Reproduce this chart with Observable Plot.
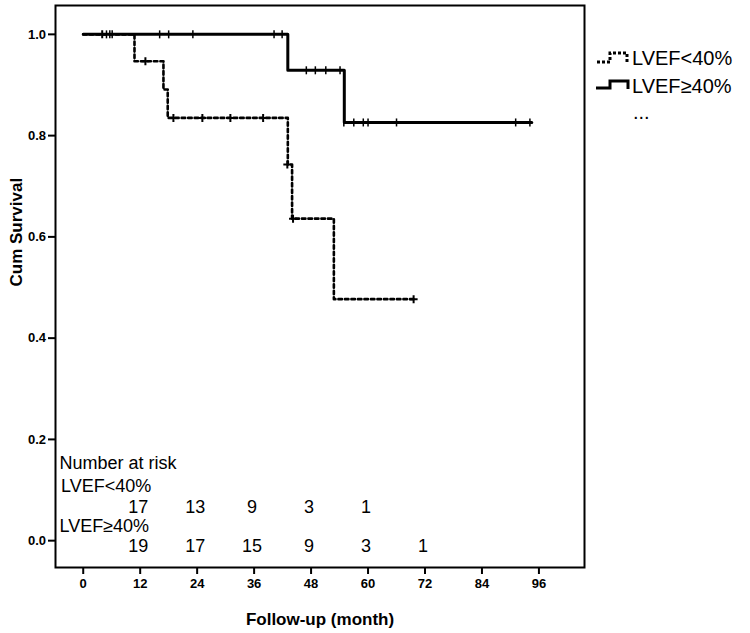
<!DOCTYPE html>
<html><head><meta charset="utf-8">
<script src="https://cdn.jsdelivr.net/npm/d3@7"></script>
<script src="https://cdn.jsdelivr.net/npm/@observablehq/plot@0.6"></script>
<style>
body{margin:0;background:#fff;}
#wrap{position:relative;width:750px;height:633px;font-family:Arial,"Liberation Sans",sans-serif;color:#000;}
#wrap > svg{position:absolute;left:0;top:0;}
.leg{position:absolute;font-size:20px;line-height:1;white-space:nowrap;}
[aria-label="x-axis tick label"] text,[aria-label="y-axis tick label"] text{font-weight:bold;font-size:13px;}
</style></head><body><div id="wrap"></div>
<script>
// Kaplan-Meier steps
const lowTimes = [0, 10.8, 16.9, 17.8, 43.1, 44.0, 52.8, 69.8];
const lowSurv  = [1, 0.947, 0.891, 0.835, 0.743, 0.636, 0.477, 0.477];
const highTimes = [0, 43.1, 55.0, 94.5];
const highSurv  = [1, 0.929, 0.826, 0.826];
// censored observations
const lowCensorTimes = [4.0, 13.1, 19.0, 25.1, 31.0, 37.9, 43.0, 44.2, 69.6];
const lowCensorSurv  = [1, 0.947, 0.835, 0.835, 0.835, 0.835, 0.743, 0.636, 0.477];
const highCensorTimes = [4.9, 5.6, 6.1, 16.1, 18.0, 23.1, 40.2, 41.9, 47.0, 48.9, 51.1, 54.1, 54.9, 57.0, 59.0, 60.0, 66.0, 91.1, 94.1];
const highCensorSurv  = [1, 1, 1, 1, 1, 1, 1, 1, 0.929, 0.929, 0.929, 0.929, 0.826, 0.826, 0.826, 0.826, 0.826, 0.826, 0.826];
// axes
const xTicks = [0, 12, 24, 36, 48, 60, 72, 84, 96];
const yTicks = [0, 0.2, 0.4, 0.6, 0.8, 1.0];
// number at risk
const riskTimes = [12, 24, 36, 48, 60, 72];
const riskLow  = [17, 13, 9, 3, 1];
const riskHigh = [19, 17, 15, 9, 3, 1];
const groupNames = ["LVEF<40%", "LVEF≥40%"];

const lowData = lowTimes.map((t, i) => ({t, s: lowSurv[i]}));
const highData = highTimes.map((t, i) => ({t, s: highSurv[i]}));
const lowCens = lowCensorTimes.map((t, i) => ({t, s: lowCensorSurv[i]}));
const highCens = highCensorTimes.map((t, i) => ({t, s: highCensorSurv[i]}));

const vbar = {draw(ctx, size) { const r = Math.sqrt(size / Math.PI); ctx.moveTo(0, -r); ctx.lineTo(0, r); }};
const plus = {draw(ctx, size) { const r = Math.sqrt(size / Math.PI); ctx.moveTo(-r, 0); ctx.lineTo(r, 0); ctx.moveTo(0, -r); ctx.lineTo(0, r); }};

const chart = Plot.plot({
  width: 750, height: 633,
  marginLeft: 55, marginRight: 166, marginTop: 5, marginBottom: 66,
  style: {fontFamily: "Arial, 'Liberation Sans', sans-serif", color: "#000", background: "#fff"},
  x: {domain: [-5.84, 105.6]},
  y: {domain: [-0.053, 1.057]},
  marks: [
    Plot.frame({stroke: "black", strokeWidth: 2}),
    Plot.axisX(xTicks, {tickSize: 7, tickPadding: 4, fontSize: 13, fontWeight: "bold", strokeWidth: 2, label: null}),
    Plot.axisY(yTicks, {tickSize: 7, tickPadding: 2.5, fontSize: 13, fontWeight: "bold", strokeWidth: 2, tickFormat: d3.format(".1f"), label: null}),
    Plot.line(highData, {x: "t", y: "s", curve: "step-after", stroke: "black", strokeWidth: 3}),
    Plot.line(lowData, {x: "t", y: "s", curve: "step-after", stroke: "black", strokeWidth: 2.6, strokeDasharray: "3.5,3"}),
    Plot.dot(highCens, {x: "t", y: "s", symbol: vbar, r: 4, stroke: "black", strokeWidth: 1.5, fill: "none"}),
    Plot.dot(lowCens, {x: "t", y: "s", symbol: plus, r: 4, stroke: "black", strokeWidth: 2, fill: "none"}),
    Plot.text(["Cum Survival"], {frameAnchor: "left", rotate: -90, dx: -39, fontSize: 17, fontWeight: "bold"}),
    Plot.text(["Follow-up (month)"], {frameAnchor: "bottom", lineAnchor: "bottom", dy: 57, fontSize: 17, fontWeight: "bold"}),
    Plot.text(["Number at risk"], {frameAnchor: "bottom-left", textAnchor: "start", lineAnchor: "bottom", dx: 4, dy: -99, fontSize: 18}),
    Plot.text([groupNames[0]], {frameAnchor: "bottom-left", textAnchor: "start", lineAnchor: "bottom", dx: 5.5, dy: -76, fontSize: 18}),
    Plot.text([groupNames[1]], {frameAnchor: "bottom-left", textAnchor: "start", lineAnchor: "bottom", dx: 4, dy: -36, fontSize: 18}),
    Plot.text(riskLow.map((n, i) => ({t: riskTimes[i], n})), {x: "t", text: "n", frameAnchor: "bottom", lineAnchor: "bottom", dx: -2, dy: -55, fontSize: 18}),
    Plot.text(riskHigh.map((n, i) => ({t: riskTimes[i], n})), {x: "t", text: "n", frameAnchor: "bottom", lineAnchor: "bottom", dx: -2, dy: -16, fontSize: 18})
  ]
});
const wrap = document.getElementById("wrap");
wrap.appendChild(chart);

// legend
const ns = "http://www.w3.org/2000/svg";
const legSvg = document.createElementNS(ns, "svg");
legSvg.setAttribute("width", 750); legSvg.setAttribute("height", 633);
legSvg.style.pointerEvents = "none";
function poly(points, attrs) {
  const p = document.createElementNS(ns, "polyline");
  p.setAttribute("points", points);
  p.setAttribute("fill", "none"); p.setAttribute("stroke", "black");
  for (const k in attrs) p.setAttribute(k, attrs[k]);
  legSvg.appendChild(p);
}
poly("597,62 610,62 610,53 627,53 627,62", {"stroke-width": 3, "stroke-dasharray": "3,2"});
poly("596,88 610,88 610,81 628,81 628,89", {"stroke-width": 3});
wrap.appendChild(legSvg);
function leg(txt, x, y) {
  const d = document.createElement("div");
  d.className = "leg"; d.textContent = txt;
  d.style.left = x + "px"; d.style.top = y + "px";
  wrap.appendChild(d);
}
leg(groupNames[0], 632, 48);
leg(groupNames[1], 632, 76);
leg("...", 633, 102);
</script></body></html>
